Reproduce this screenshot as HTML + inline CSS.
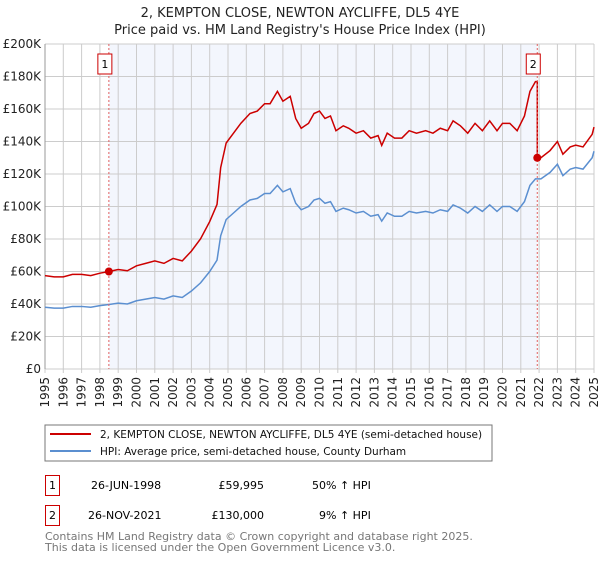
<!DOCTYPE html>
<html><head><meta charset="utf-8"><style>
body{margin:0;background:#fff;font-family:"DejaVu Sans","Liberation Sans",sans-serif;}
svg text{font-family:"DejaVu Sans","Liberation Sans",sans-serif;}
</style></head><body>
<svg id="c" width="600" height="560" xmlns="http://www.w3.org/2000/svg">
<text x="300" y="17" text-anchor="middle" font-size="13" fill="#222">2, KEMPTON CLOSE, NEWTON AYCLIFFE, DL5 4YE</text>
<text x="300" y="34" text-anchor="middle" font-size="13" fill="#222">Price paid vs. HM Land Registry's House Price Index (HPI)</text>
<g id="grid"></g><g id="lines"></g><g id="marks"></g>
<rect x="45" y="425" width="447" height="36" fill="#fff" stroke="#777"/>
<line x1="50" y1="434" x2="91" y2="434" stroke="#cc0000" stroke-width="2"/>
<text x="100" y="438" font-size="10.5" fill="#111">2, KEMPTON CLOSE, NEWTON AYCLIFFE, DL5 4YE (semi-detached house)</text>
<line x1="50" y1="451" x2="91" y2="451" stroke="#5b8fd0" stroke-width="2"/>
<text x="100" y="455" font-size="10.5" fill="#111">HPI: Average price, semi-detached house, County Durham</text>
<g>
<rect x="45.5" y="475.5" width="14" height="20" fill="none" stroke="#cc0000"/>
<text x="52.5" y="489" font-size="11" text-anchor="middle">1</text>
<text x="91" y="489" font-size="11">26-JUN-1998</text>
<text x="264" y="489" font-size="11" text-anchor="end">£59,995</text>
<text x="312" y="489" font-size="11">50% ↑ HPI</text></g>
<g>
<rect x="45.5" y="505.5" width="14" height="20" fill="none" stroke="#cc0000"/>
<text x="52.5" y="519" font-size="11" text-anchor="middle">2</text>
<text x="88" y="519" font-size="11">26-NOV-2021</text>
<text x="264" y="519" font-size="11" text-anchor="end">£130,000</text>
<text x="319" y="519" font-size="11">9% ↑ HPI</text></g>
<text x="45" y="540" font-size="11" fill="#777">Contains HM Land Registry data © Crown copyright and database right 2025.</text>
<text x="45" y="551" font-size="11" fill="#777">This data is licensed under the Open Government Licence v3.0.</text>
</svg>
<script>
const years=[1995,1995.5,1996,1996.5,1997,1997.5,1998,1998.5,1999,1999.5,2000,2000.5,2001,2001.5,2002,2002.5,2003,2003.5,2004,2004.4,2004.6,2004.9,2005.3,2005.7,2006.2,2006.6,2007,2007.3,2007.7,2008,2008.4,2008.7,2009,2009.4,2009.7,2010,2010.3,2010.6,2010.9,2011.3,2011.6,2012,2012.4,2012.8,2013.2,2013.4,2013.7,2014.1,2014.5,2014.9,2015.3,2015.8,2016.2,2016.6,2017,2017.3,2017.7,2018.1,2018.5,2018.9,2019.3,2019.7,2020,2020.4,2020.8,2021.2,2021.5,2021.8,2022.1,2022.6,2023,2023.3,2023.7,2024,2024.4,2024.9,2025];
const hpi=[38,37.5,37.5,38.5,38.5,38,39,39.7,40.5,40,42,43,44,43,45,44,48,53,60,67,82,92,96,100,104,105,108,108,113,109,111,102,98,100,104,105,102,103,97,99,98,96,97,94,95,91,96,94,94,97,96,97,96,98,97,101,99,96,100,97,101,97,100,100,97,103,113,117,117,121,126,119,123,124,123,130,134];
const sales=[{n:"1",year:1998.49,price:59.995},{n:"2",year:2021.9,price:130}];
const yTicks=[0,20,40,60,80,100,120,140,160,180,200];
const xTicks=[1995,1996,1997,1998,1999,2000,2001,2002,2003,2004,2005,2006,2007,2008,2009,2010,2011,2012,2013,2014,2015,2016,2017,2018,2019,2020,2021,2022,2023,2024,2025];
const X0=45,X1=594,Y0=369,Y1=44;
const sx=y=>X0+(y-1995)/30*(X1-X0), sy=v=>Y0-v/200*(Y0-Y1);
const NS="http://www.w3.org/2000/svg";
function mk(p,t,a){const e=document.createElementNS(NS,t);for(const k in a)e.setAttribute(k,a[k]);p.appendChild(e);return e;}
function hpiAt(y){for(let i=1;i<years.length;i++){if(years[i]>=y){const t=(y-years[i-1])/(years[i]-years[i-1]);return hpi[i-1]+t*(hpi[i]-hpi[i-1]);}}return hpi[hpi.length-1];}
const g=document.getElementById('grid'),L=document.getElementById('lines'),M=document.getElementById('marks');
const sh=mk(g,'rect',{x:sx(sales[0].year),y:Y1,width:sx(sales[1].year)-sx(sales[0].year),height:Y0-Y1,fill:'#f3f6fd'});


yTicks.forEach(v=>{mk(g,'line',{x1:X0,x2:X1,y1:sy(v),y2:sy(v),stroke:'#cccccc'});
const t=mk(g,'text',{x:X0-4,y:sy(v)+4,'text-anchor':'end','font-size':12,fill:'#222'});t.textContent=v===0?'£0':'£'+v+'K';

});
xTicks.forEach(y=>{mk(g,'line',{x1:sx(y),x2:sx(y),y1:Y1,y2:Y0+4,stroke:'#cccccc'});
const t=mk(g,'text',{x:sx(y),y:Y0+8,'font-size':12,fill:'#222','text-anchor':'end',transform:`rotate(-90 ${sx(y)} ${Y0+8})`,dy:4});t.textContent=y;

});
mk(g,'line',{x1:X0,x2:X0,y1:Y1,y2:Y0,stroke:'#999'});
const r1=sales[0].price/hpiAt(sales[0].year), r2=sales[1].price/hpiAt(sales[1].year);
let bp=[],rp=[];
years.forEach((y,i)=>{bp.push(sx(y)+','+sy(hpi[i]));
if(y<sales[1].year)rp.push(sx(y)+','+sy(hpi[i]*r1));});
rp.push(sx(sales[1].year)+','+sy(hpiAt(sales[1].year)*r1));
rp.push(sx(sales[1].year)+','+sy(sales[1].price));
years.forEach((y,i)=>{if(y>sales[1].year)rp.push(sx(y)+','+sy(hpi[i]*r2));});
const bl=mk(L,'polyline',{points:bp.join(' '),fill:'none',stroke:'#5b8fd0','stroke-width':1.5});


const rl=mk(L,'polyline',{points:rp.join(' '),fill:'none',stroke:'#cc0000','stroke-width':1.5});


sales.forEach(s=>{const x=sx(s.year);
mk(M,'line',{x1:x,x2:x,y1:Y1,y2:Y0,stroke:'#e06060','stroke-dasharray':'2,2'});
const d=mk(M,'circle',{cx:x,cy:sy(s.price),r:4,fill:'#cc0000'});


const b=mk(M,'rect',{x:x-11,y:54,width:14,height:20,fill:'#fff',stroke:'#cc0000'});


const t=mk(M,'text',{x:x-4,y:68,'font-size':11,'text-anchor':'middle'});t.textContent=s.n;});
</script>
</body></html>
